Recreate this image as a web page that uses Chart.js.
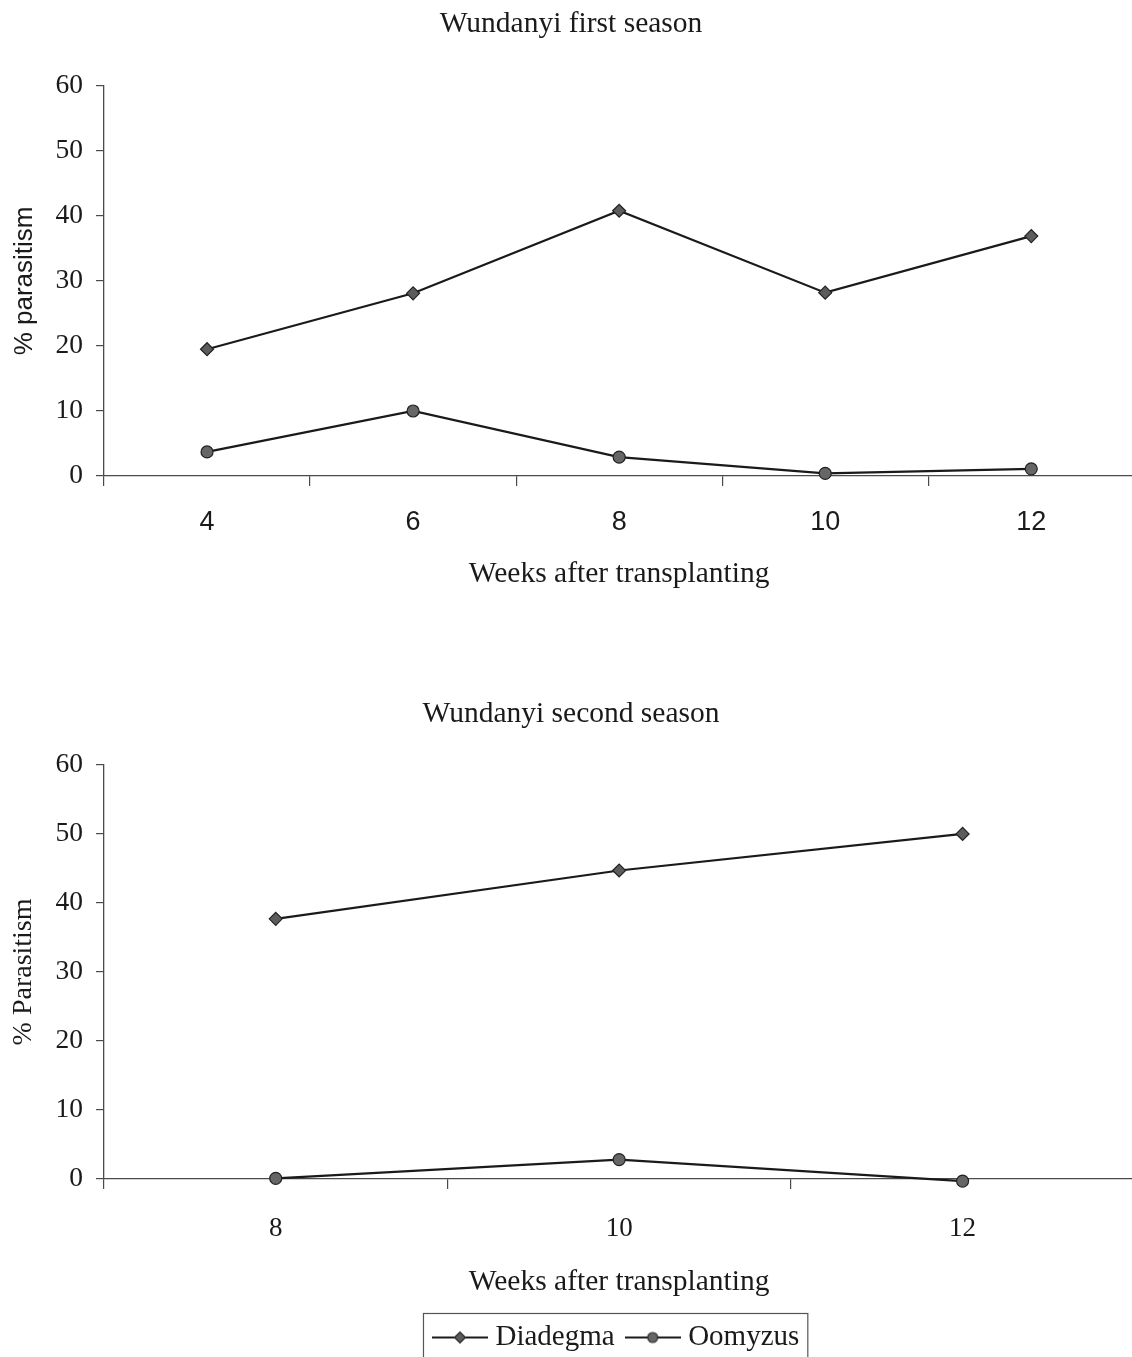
<!DOCTYPE html>
<html>
<head>
<meta charset="utf-8">
<script src="https://cdn.jsdelivr.net/npm/chart.js@4/dist/chart.umd.min.js"></script>
<style>
  html, body { margin: 0; padding: 0; background: #fff; overflow: hidden; width: 1132px; height: 1357px; }
  body { position: relative; }
  canvas { position: absolute; left: 0; }
  #c1 { top: 0; }
  #c2 { top: 690px; }
</style>
</head>
<body>
<canvas id="c1" width="1142" height="600"></canvas>
<canvas id="c2" width="1142" height="672"></canvas>
<script>
// First season sampling (weeks after transplanting)
const weeksFirst = ['4', '6', '8', '10', '12'];
const diadegmaFirst = [19.5, 28.1, 40.8, 28.2, 36.9];
const oomyzusFirst = [3.7, 10.0, 2.9, 0.4, 1.1];

// Second season sampling
const weeksSecond = ['8', '10', '12'];
const diadegmaSecond = [37.7, 44.7, 50.0];
const oomyzusSecond = [0.1, 2.8, -0.3];

const yTicks = [0, 10, 20, 30, 40, 50, 60];

const SERIF = "'Liberation Serif', 'Times New Roman', serif";
const SANS = "'Liberation Sans', Arial, sans-serif";
const INK = '#1a1a1a';
const AXIS = '#4a4a4a';

function seriesStyle(kind) {
  if (kind === 'diamond') {
    return { pointStyle: 'rectRot', pointRadius: 6.5, pointBackgroundColor: '#5c5c5c',
             pointBorderColor: '#222', pointBorderWidth: 1.2 };
  }
  return { pointStyle: 'circle', pointRadius: 6, pointBackgroundColor: '#666',
           pointBorderColor: '#222', pointBorderWidth: 1.2 };
}

function makeDatasets(d, o) {
  return [
    Object.assign({ label: 'Diadegma', data: d, borderColor: INK, borderWidth: 2.2,
                    tension: 0, clip: false }, seriesStyle('diamond')),
    Object.assign({ label: 'Oomyzus', data: o, borderColor: INK, borderWidth: 2.2,
                    tension: 0, clip: false }, seriesStyle('circle'))
  ];
}

function makeOptions(cfg) {
  return {
    responsive: false,
    animation: false,
    layout: { padding: { left: 0, right: 0, top: 0, bottom: 0 } },
    plugins: {
      title: {
        display: true, text: cfg.title, color: INK,
        font: { family: SERIF, size: 29.5, weight: 'normal', lineHeight: 1.2 },
        padding: { top: 6.5, bottom: cfg.titleBottom }
      },
      legend: cfg.legend,
      tooltip: { enabled: false }
    },
    scales: {
      x: {
        type: 'category',
        offset: true,
        grid: { display: true, offset: true, drawOnChartArea: false, drawTicks: true,
                tickLength: 10, color: AXIS, lineWidth: 1.2 },
        border: { display: true, color: AXIS, width: 1.3 },
        ticks: { color: INK, padding: cfg.xTickPad,
                 font: { family: cfg.xTickFont, size: 27, lineHeight: 1.2 } },
        title: { display: true, text: 'Weeks after transplanting', color: INK,
                 font: { family: SERIF, size: 29.5, lineHeight: 1.2 },
                 padding: { top: 0, bottom: cfg.xTitleBottom } },
        afterFit: (s) => { s.height = cfg.xHeight; }
      },
      y: {
        min: 0, max: 60,
        afterBuildTicks: (s) => { s.ticks = yTicks.map(v => ({ value: v })); },
        grid: { display: true, drawOnChartArea: false, drawTicks: true,
                tickLength: 8, color: AXIS, lineWidth: 1.2 },
        border: { display: true, color: AXIS, width: 1.3 },
        ticks: { color: INK, padding: 13,
                 font: { family: SERIF, size: 27.5, lineHeight: 1.2 } },
        title: { display: true, text: cfg.yTitle, color: INK,
                 font: { family: cfg.yTitleFont, size: cfg.yTitleSize, lineHeight: 1.2 },
                 padding: { top: cfg.yTitlePad, bottom: 0 } },
        afterFit: (s) => { s.width = 104; }
      }
    }
  };
}

// First season chart
new Chart(document.getElementById('c1'), {
  type: 'line',
  data: { labels: weeksFirst, datasets: makeDatasets(diadegmaFirst, oomyzusFirst) },
  options: makeOptions({
    title: 'Wundanyi first season', titleBottom: 44,
    legend: { display: false },
    xTickFont: SANS, xTickPad: 20, xTitleBottom: 8.3, xHeight: 124,
    yTitle: '% parasitism', yTitleFont: SANS, yTitleSize: 26, yTitlePad: 9
  })
});

// Legend symbol: short line with the series marker in the middle
function legendSymbol(kind) {
  const c = document.createElement('canvas');
  c.width = 56; c.height = 16;
  const g = c.getContext('2d');
  g.strokeStyle = INK; g.lineWidth = 2;
  g.beginPath(); g.moveTo(0, 8); g.lineTo(56, 8); g.stroke();
  g.fillStyle = kind === 'diamond' ? '#5c5c5c' : '#666';
  g.strokeStyle = '#222'; g.lineWidth = 1.1;
  g.beginPath();
  if (kind === 'diamond') {
    g.moveTo(28 - 5.5, 8); g.lineTo(28, 2.5); g.lineTo(28 + 5.5, 8); g.lineTo(28, 13.5); g.closePath();
  } else {
    g.arc(28, 8, 5, 0, Math.PI * 2);
  }
  g.fill(); g.stroke();
  return c;
}
const legendSymbols = [legendSymbol('diamond'), legendSymbol('circle')];

// Frame drawn round the legend entries
const legendFrame = {
  id: 'legendFrame',
  afterDraw(chart) {
    const lg = chart.legend;
    if (!lg || !lg.legendHitBoxes || !lg.legendHitBoxes.length) return;
    const hb = lg.legendHitBoxes;
    const first = hb[0], last = hb[hb.length - 1];
    const x0 = first.left - 16;
    const x1 = last.left + last.width + 8;
    const y0 = lg.top + 7;
    const ctx = chart.ctx;
    ctx.save();
    ctx.strokeStyle = '#555';
    ctx.lineWidth = 1.2;
    ctx.strokeRect(x0 + 0.5, y0 + 0.5, x1 - x0, chart.height - y0 + 5);
    ctx.restore();
  }
};

// Second season chart
new Chart(document.getElementById('c2'), {
  type: 'line',
  data: { labels: weeksSecond, datasets: makeDatasets(diadegmaSecond, oomyzusSecond) },
  options: makeOptions({
    title: 'Wundanyi second season', titleBottom: 33,
    legend: {
      display: true, position: 'bottom', fullSize: false,
      labels: {
        usePointStyle: true, pointStyleWidth: 42, padding: 17, color: INK,
        font: { family: SERIF, size: 29 },
        generateLabels: (chart) => chart.data.datasets.map((ds, i) => ({
          text: ds.label, datasetIndex: i, hidden: false,
          pointStyle: legendSymbols[i], fillStyle: '#666', strokeStyle: INK,
          lineWidth: 0, fontColor: INK
        }))
      }
    },
    xTickFont: SERIF, xTickPad: 24, xTitleBottom: 6.3, xHeight: 127,
    yTitle: '% Parasitism', yTitleFont: SERIF, yTitleSize: 28, yTitlePad: 7
  }),
  plugins: [legendFrame]
});
</script>
</body>
</html>
